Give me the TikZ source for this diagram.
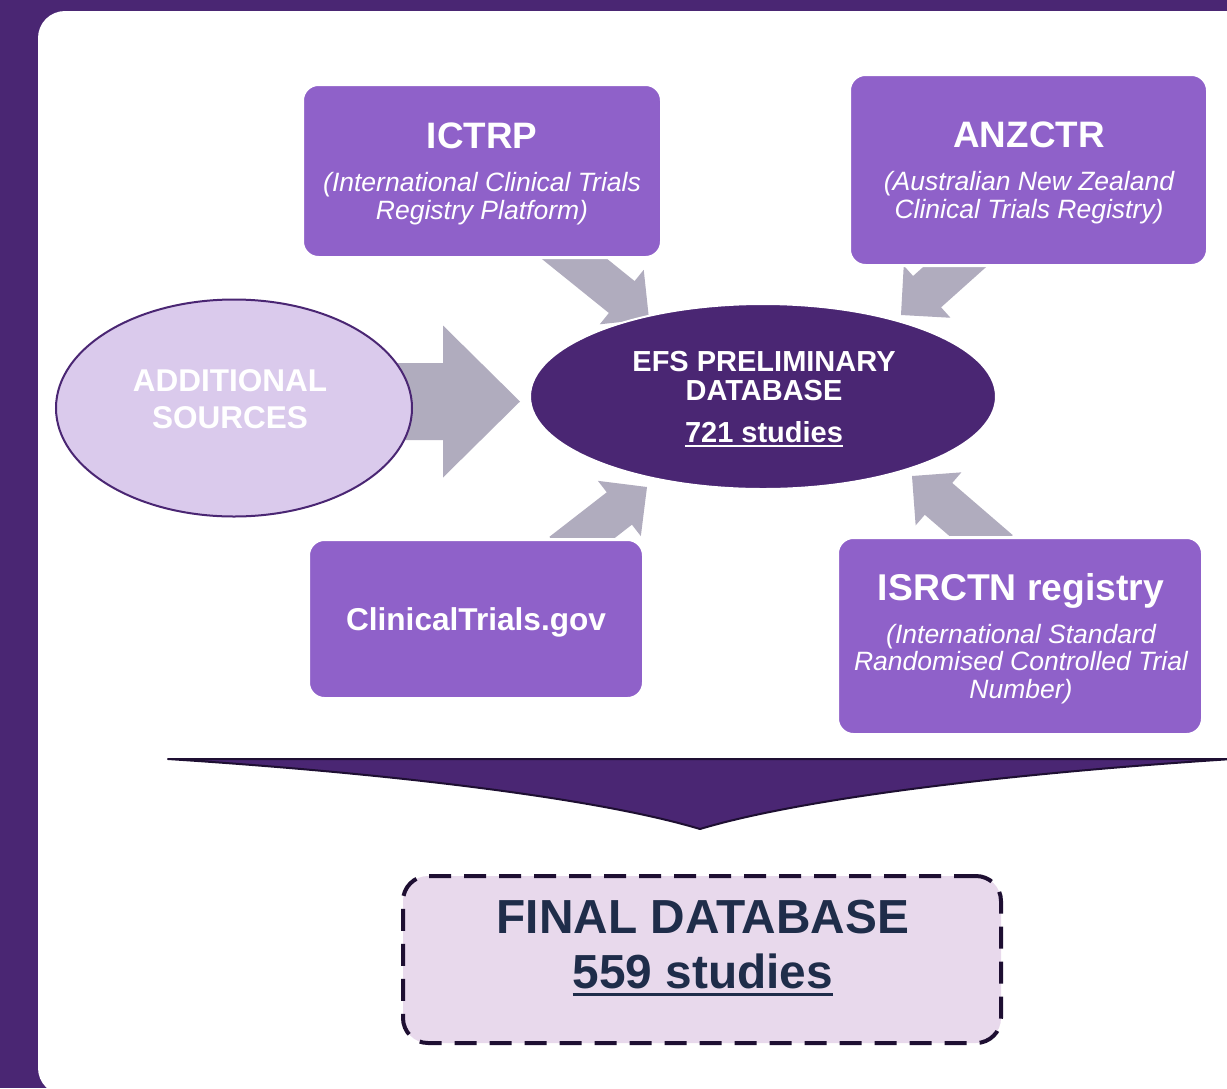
\documentclass[tikz,border=0pt]{standalone}
\usepackage{fontspec}
\setmainfont{Liberation Sans}
\usetikzlibrary{calc,shapes.geometric}
\pgfdeclarelayer{back}
\pgfdeclarelayer{arrows}
\pgfsetlayers{back,arrows,main}
\definecolor{framep}{RGB}{74,38,115}
\definecolor{boxp}{RGB}{143,97,201}
\definecolor{agrey}{RGB}{176,172,190}
\definecolor{lilac}{RGB}{218,202,236}
\definecolor{pinkbg}{RGB}{232,217,236}
\definecolor{navy}{RGB}{31,45,74}
\definecolor{darkline}{RGB}{30,15,50}
% block arrow: #1 start coord, #2 tip coord, #3 shaft half width, #4 head half width, #5 head length
\newcommand\blockarrow[5]{%
  \coordinate (#1hb) at ($(#2)!#5!(#1)$);
  \fill[agrey] ($(#1)!#3!90:(#2)$) -- ($(#1hb)!#3!-90:(#1)$) -- ($(#1hb)!#4!-90:(#1)$) -- (#2)
    -- ($(#1hb)!#4!90:(#1)$) -- ($(#1hb)!#3!90:(#1)$) -- ($(#1)!#3!-90:(#2)$) -- cycle;
}
\tikzset{
  srcbox/.style={rectangle, rounded corners=16pt, fill=boxp, draw=white, line width=3pt, inner sep=0pt},
  ttl/.style={text=white, font=\bfseries\fontsize{36.8}{40}\selectfont, anchor=base, inner sep=0pt},
  subt/.style={text=white, font=\itshape\fontsize{26.5}{27.5}\selectfont, align=center, anchor=base, inner sep=0pt},
  efstxt/.style={text=white, font=\bfseries\fontsize{29}{29}\selectfont, align=center, anchor=base, inner sep=0pt},
  addtxt/.style={text=white, font=\bfseries\fontsize{31.5}{36.5}\selectfont, align=center, anchor=base, inner sep=0pt},
  fintxt/.style={text=navy, font=\bfseries\fontsize{47.8}{55}\selectfont, anchor=base, inner sep=0pt},
}
\begin{document}
\begin{tikzpicture}[x=1pt,y=-1pt]
\useasboundingbox (0,0) rectangle (1227,1088);
\begin{pgfonlayer}{back}
  \fill[framep] (0,0) rectangle (1227,1088);
  \fill[white, rounded corners=27pt] (38,11) rectangle (1290,1095);
\end{pgfonlayer}

% source boxes
\node[srcbox, minimum width=359pt, minimum height=173pt] (ictrp) at (482,171) {};
\node[srcbox, minimum width=358pt, minimum height=191pt] (anzctr) at (1028.5,170) {};
\node[srcbox, minimum width=335pt, minimum height=159pt] (ctgov) at (476,619) {};
\node[srcbox, minimum width=365pt, minimum height=197pt] (isrctn) at (1020,636) {};

% ellipses
\node[ellipse, fill=lilac, draw=framep, line width=2pt, minimum width=356pt, minimum height=217pt, inner sep=0pt] (add) at (234,408) {};
\node[ellipse, fill=framep, draw=white, line width=2pt, minimum width=466pt, minimum height=185pt, inner sep=0pt] (efs) at (763,396.5) {};

% final box
\node[rectangle, rounded corners=25pt, fill=pinkbg, draw=darkline, line width=4pt, dash pattern=on 22pt off 13pt, minimum width=598pt, minimum height=167pt, inner sep=0pt] (final) at (702,959.5) {};

% texts (multi-line nodes: base = last line's baseline)
\node[ttl] (t1) at (482,148) {ICTRP};
\node[subt] (s1) at (482,219) {(International Clinical Trials\\Registry Platform)};
\node[ttl] (t2) at (1029,147) {ANZCTR};
\node[subt] (s2) at (1029,218) {(Australian New Zealand\\Clinical Trials Registry)};
\node[ttl, font=\bfseries\fontsize{31.6}{36}\selectfont] (t3) at (476,630) {ClinicalTrials.gov};
\node[ttl, font=\bfseries\fontsize{37.3}{40}\selectfont] (t4) at (1021,600) {ISRCTN registry};
\node[subt] (s4) at (1021,698) {(International Standard\\Randomised Controlled Trial\\Number)};
\node[efstxt] (e1) at (764,400) {EFS PRELIMINARY\\DATABASE};
\node[efstxt] (e2) at (764,442) {721 studies};
\draw[white, line width=2.2pt] ($(e2.base west)+(0,4)$) -- ($(e2.base east)+(0,4)$);
\node[addtxt] (a1) at (230,428) {ADDITIONAL\\SOURCES};
\node[fintxt] (f1) at (703,933) {FINAL DATABASE};
\node[fintxt] (f2) at (703,988) {559 studies};
\draw[navy, line width=3.5pt] ($(f2.base west)+(0,6.5)$) -- ($(f2.base east)+(0,6.5)$);

% arrows
\begin{pgfonlayer}{arrows}
  \coordinate (a1s) at (551,240);  \coordinate (a1t) at (649,319);
  \coordinate (a2s) at (977,247);  \coordinate (a2t) at (901,315);
  \coordinate (a3s) at (562,553);  \coordinate (a3t) at (647,487);
  \coordinate (a4s) at (999,551);  \coordinate (a4t) at (912,476);
  \coordinate (a5s) at (380,401.5); \coordinate (a5t) at (520,401.5);
  \blockarrow{a1s}{a1t}{20.5pt}{35pt}{35pt}
  \blockarrow{a2s}{a2t}{21pt}{35pt}{35pt}
  \blockarrow{a3s}{a3t}{20.5pt}{35pt}{35pt}
  \blockarrow{a4s}{a4t}{21pt}{35pt}{35pt}
  \blockarrow{a5s}{a5t}{38.5pt}{76pt}{77pt}
  % merge chevron
  \coordinate (cl) at (168,759);
  \coordinate (cr) at (1232,759);
  \coordinate (ct) at (700,829);
  \filldraw[fill=framep, draw=darkline, line width=2pt, line join=round] (cl) -- (cr) .. controls (1000,774) and (800,799) .. (ct) .. controls (600,799) and (400,774) .. (cl) -- cycle;
\end{pgfonlayer}
\end{tikzpicture}
\end{document}
